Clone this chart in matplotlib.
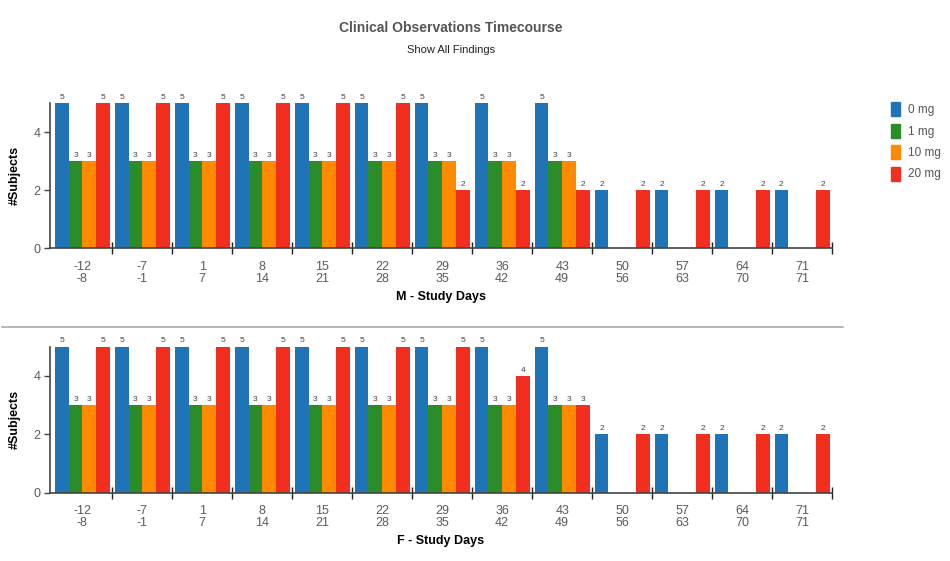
import matplotlib
matplotlib.use("Agg")
import matplotlib.pyplot as plt
import numpy as np

plt.rcParams["font.family"] = ["Liberation Sans", "DejaVu Sans"]

groups_start = ["-12", "-7", "1", "8", "15", "22", "29", "36", "43", "50", "57", "64", "71"]
groups_end = ["-8", "-1", "7", "14", "21", "28", "35", "42", "49", "56", "63", "70", "71"]
doses = ["0 mg", "1 mg", "10 mg", "20 mg"]
colors = ["#1f74b8", "#2a8d2a", "#ff8a00", "#f22e1f"]

male = {
    "0 mg":  [5, 5, 5, 5, 5, 5, 5, 5, 5, 2, 2, 2, 2],
    "1 mg":  [3, 3, 3, 3, 3, 3, 3, 3, 3, 0, 0, 0, 0],
    "10 mg": [3, 3, 3, 3, 3, 3, 3, 3, 3, 0, 0, 0, 0],
    "20 mg": [5, 5, 5, 5, 5, 5, 2, 2, 2, 2, 2, 2, 2],
}
female = {
    "0 mg":  [5, 5, 5, 5, 5, 5, 5, 5, 5, 2, 2, 2, 2],
    "1 mg":  [3, 3, 3, 3, 3, 3, 3, 3, 3, 0, 0, 0, 0],
    "10 mg": [3, 3, 3, 3, 3, 3, 3, 3, 3, 0, 0, 0, 0],
    "20 mg": [5, 5, 5, 5, 5, 5, 5, 4, 3, 2, 2, 2, 2],
}

W, H = 950, 561
fig = plt.figure(figsize=(W / 100, H / 100), dpi=100)
fig.patch.set_facecolor("white")

def px_axes(left, right, y0, y5):
    return fig.add_axes([left / W, 1 - y0 / H, (right - left) / W, (y0 - y5) / H])

gray = "#5a5a5a"

def draw(ax, data, xlabel):
    n = len(groups_start)
    x = np.arange(n)
    bw = 55 / 60 / 4
    for k, d in enumerate(doses):
        vals = np.array(data[d])
        pos = x - 55 / 120 + bw * (k + 0.5)
        ax.bar(pos, vals, width=bw, color=colors[k], edgecolor="none", zorder=2)
        for p, v in zip(pos, vals):
            if v > 0:
                ax.text(p, v + 0.08, str(v), ha="center", va="bottom",
                        fontsize=6, color="#444444", clip_on=False)
    ax.set_xlim(-0.54, n - 0.5)
    ax.set_ylim(0, 5)
    ax.set_yticks([0, 2, 4])
    ax.set_xticks(np.arange(n) + 0.5)
    ax.set_xticklabels([])
    ax.set_xticks(x, minor=True)
    ax.set_xticklabels([f"{a}\n{b}" for a, b in zip(groups_start, groups_end)],
                       minor=True, fontsize=9, color=gray, linespacing=1.05)
    ax.tick_params(axis="x", which="major", direction="inout", length=8, width=1, color="#222222")
    ax.tick_params(axis="x", which="minor", length=0, pad=9)
    ax.tick_params(axis="y", length=4, width=1, color="#444444", labelsize=9, labelcolor=gray, pad=3)
    for s in ["top", "right"]:
        ax.spines[s].set_visible(False)
    ax.spines["left"].set_color("#444444")
    ax.spines["bottom"].set_color("#444444")
    ax.spines["left"].set_linewidth(1.2)
    ax.spines["bottom"].set_linewidth(1.2)
    ax.set_ylabel("#Subjects", fontsize=9, fontweight="bold", labelpad=9)
    ax.set_xlabel(xlabel, fontsize=9, fontweight="bold", labelpad=4)

ax1 = px_axes(50, 832, 248.5, 103.3)
draw(ax1, male, "M - Study Days")
ax2 = px_axes(50, 832, 492.5, 346.7)
draw(ax2, female, "F - Study Days")

fig.text(451 / W, 1 - 28 / H, "Clinical Observations Timecourse", ha="center", va="center",
         fontsize=10, fontweight="bold", color="#555555")
fig.text(451 / W, 1 - 50 / H, "Show All Findings", ha="center", va="center",
         fontsize=8, color="#222222")

fig.add_artist(plt.Line2D([2 / W, 843 / W], [1 - 327 / H, 1 - 327 / H],
                          color="#aaaaaa", linewidth=1.2))

for k, d in enumerate(doses):
    yy = 109 + k * 21.5
    fig.patches.append(plt.Rectangle(((891) / W, 1 - (yy + 7) / H), 9 / W, 14 / H,
                                     transform=fig.transFigure, color=colors[k]))
    fig.text(908 / W, 1 - (yy + 1) / H, d, ha="left", va="center", fontsize=8.5, color="#555555")

fig.savefig("out.png", dpi=100, facecolor="white")
